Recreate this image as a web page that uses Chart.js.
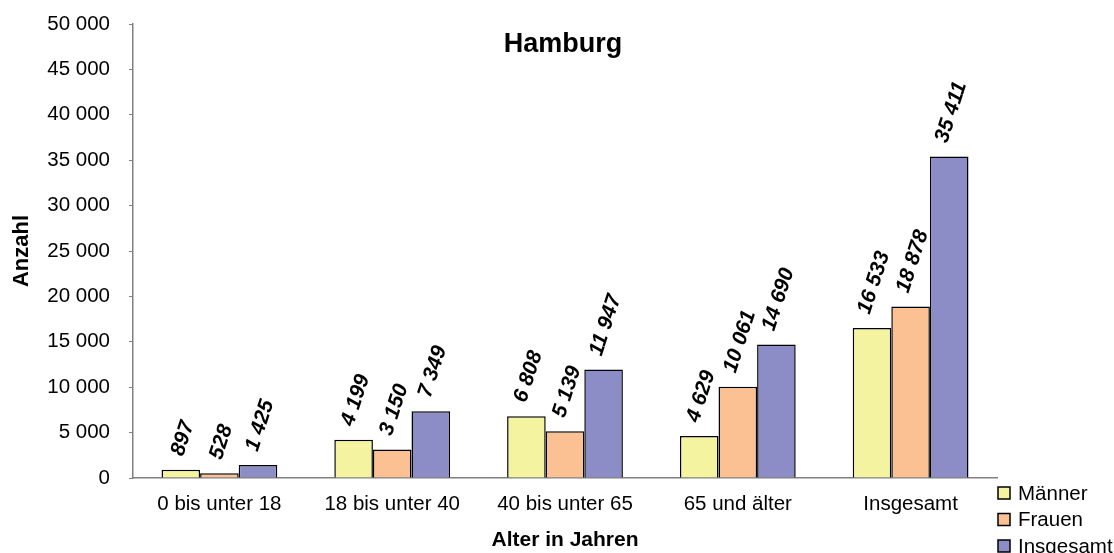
<!DOCTYPE html>
<html>
<head>
<meta charset="utf-8">
<script src="https://cdn.jsdelivr.net/npm/chart.js@4"></script>
<style>
  html, body { margin: 0; padding: 0; background: #fff; overflow: hidden; }
  canvas { display: block; }
</style>
</head>
<body>
<canvas id="chart" width="1114" height="553"></canvas>
<script>
// values
const categories = ['0 bis unter 18', '18 bis unter 40', '40 bis unter 65', '65 und älter', 'Insgesamt'];
const maenner    = [897, 4199, 6808, 4629, 16533];
const frauen     = [528, 3150, 5139, 10061, 18878];
const insgesamt  = [1425, 7349, 11947, 14690, 35411];
const seriesNames = ['Männer', 'Frauen', 'Insgesamt'];
const seriesColors = ['#F3F3A0', '#FBC193', '#8C8CC6'];

const FONT = '"Liberation Sans", Arial, sans-serif';
const LABEL_ANGLE = 72 * Math.PI / 180;

// 35411 -> "35 411"
function fmt(n) {
  return String(Math.round(n)).replace(/\B(?=(\d{3})+(?!\d))/g, ' ');
}

// title, rotated value labels and the little legend at the bottom right
const extras = {
  id: 'extras',
  afterDatasetsDraw(chart) {
    const ctx = chart.ctx;
    const fs = 21;
    ctx.save();
    ctx.fillStyle = '#000';
    ctx.font = 'italic bold ' + fs + 'px ' + FONT;
    ctx.textAlign = 'center';
    ctx.textBaseline = 'middle';
    const c = Math.cos(LABEL_ANGLE), s = Math.sin(LABEL_ANGLE);
    chart.data.datasets.forEach((ds, i) => {
      chart.getDatasetMeta(i).data.forEach((bar, j) => {
        const txt = fmt(ds.data[j]);
        const w = ctx.measureText(txt).width;
        const h = fs * 1.1;
        // height of the rotated box, so it sits just above the bar
        const bh = w * s + h * c;
        ctx.save();
        ctx.translate(bar.x + 2, bar.y - 11 - bh / 2);
        ctx.rotate(-LABEL_ANGLE);
        ctx.fillText(txt, 0, 0);
        ctx.restore();
      });
    });
    ctx.restore();
  },
  afterDraw(chart) {
    const ctx = chart.ctx;
    ctx.save();
    ctx.fillStyle = '#000';
    ctx.font = 'bold 27px ' + FONT;
    ctx.textAlign = 'center';
    ctx.textBaseline = 'middle';
    ctx.fillText('Hamburg', 563, 45);

    ctx.font = '20.5px ' + FONT;
    ctx.textAlign = 'left';
    chart.data.datasets.forEach((ds, i) => {
      const y = 493 + i * 26.5;
      ctx.fillStyle = ds.backgroundColor;
      ctx.fillRect(998, y - 6, 12, 12);
      ctx.strokeStyle = '#000';
      ctx.lineWidth = 1.5;
      ctx.strokeRect(998, y - 6, 12, 12);
      ctx.fillStyle = '#000';
      ctx.fillText(ds.label, 1018, y + 1);
    });
    ctx.restore();
  }
};

const datasets = [maenner, frauen, insgesamt].map((vals, i) => ({
  label: seriesNames[i],
  data: vals,
  backgroundColor: seriesColors[i],
  borderColor: '#000',
  borderWidth: 1.5,
  borderSkipped: 'bottom',
  categoryPercentage: 0.67,
  barPercentage: 1.0
}));

new Chart(document.getElementById('chart'), {
  type: 'bar',
  data: { labels: categories, datasets },
  plugins: [extras],
  options: {
    responsive: false,
    animation: false,
    layout: { padding: { top: 24, right: 117, left: 0, bottom: 0 } },
    plugins: { legend: { display: false }, tooltip: { enabled: false } },
    scales: {
      x: {
        grid: { display: false, drawTicks: false },
        border: { display: true, color: '#808080', width: 1.5 },
        ticks: { color: '#000', font: { family: FONT, size: 20.5 }, padding: 14, maxRotation: 0 },
        title: { display: true, text: 'Alter in Jahren', color: '#000', font: { family: FONT, size: 21, weight: 'bold' }, padding: { top: 0, bottom: 0 } },
        afterFit: (s) => { s.height = 75; s.paddingLeft = 0; s.paddingRight = 0; }
      },
      y: {
        min: 0,
        max: 50000,
        grid: { display: true, drawOnChartArea: false, drawTicks: true, tickLength: 4, color: '#808080' },
        border: { display: true, color: '#808080', width: 1.5 },
        ticks: { stepSize: 5000, color: '#000', font: { family: FONT, size: 20.5 }, padding: 19, callback: (v) => fmt(v) },
        title: { display: true, text: 'Anzahl', color: '#000', font: { family: FONT, size: 22, weight: 'bold' }, padding: { top: 9, bottom: 0 } },
        afterFit: (s) => { s.width = 133; s.paddingTop = 0; s.paddingBottom = 0; }
      }
    }
  }
});
</script>
</body>
</html>
